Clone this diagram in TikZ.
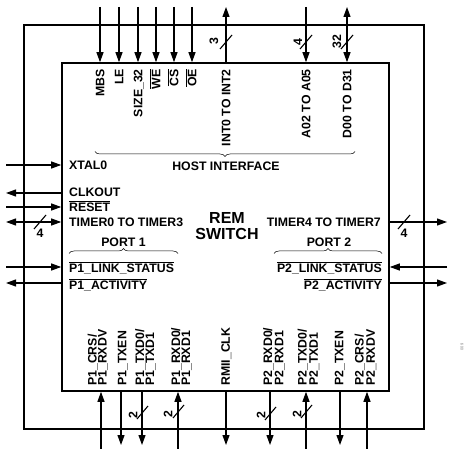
\documentclass[tikz,border=0pt]{standalone}
\usepackage{fontspec}
\setmainfont{Liberation Sans}
\usetikzlibrary{arrows.meta,decorations.pathreplacing}
\newcommand\ovl[1]{$\overline{\mbox{#1}}$}
\tikzset{
 box/.style={draw,line width=1.6pt,inner sep=0pt},
 sig/.style={line width=1.1pt},
 lbl/.style={inner sep=0pt},
 pin/.style={inner sep=0pt,rotate=90},
 brc/.style={decorate,decoration={brace,amplitude=5pt},line width=.5pt},
}
\begin{document}
\begin{tikzpicture}[x=1pt,y=-1pt,>={Triangle[length=10pt,width=7pt]},font=\bfseries\fontsize{12.3}{10}\selectfont]
 \useasboundingbox (0,0) rectangle (466,449);
 \node[box,minimum width=400,minimum height=404] (frame) at (224,227) {};
 \node[box,minimum width=327,minimum height=328] (rem) at (225.5,227) {};
 \node[align=center,inner sep=0pt,font=\bfseries\fontsize{16}{16}\selectfont] (title) at (227,226) {REM\\SWITCH};
 % host bus
 \coordinate (mbs) at (100,7); \draw[sig,->] (mbs) -- (mbs |- rem.north);
 \coordinate (le) at (119,7); \draw[sig,->] (le) -- (le |- rem.north);
 \coordinate (size) at (138,7); \draw[sig,->] (size) -- (size |- rem.north);
 \coordinate (we) at (156,7); \draw[sig,->] (we) -- (we |- rem.north);
 \coordinate (cs) at (174,7); \draw[sig,->] (cs) -- (cs |- rem.north);
 \coordinate (oe) at (192,7); \draw[sig,->] (oe) -- (oe |- rem.north);
 \coordinate (int) at (226,7); \draw[sig,<-] (int) -- (int |- rem.north);
 \coordinate (addr) at (306,7); \draw[sig,->] (addr) -- (addr |- rem.north);
 \coordinate (data) at (347,7); \draw[sig,<->] (data) -- (data |- rem.north);
 \draw[sig] (220,49) -- (232,35); \node[pin] (intw) at (214,41) {3};
 \draw[sig] (300,49) -- (312,35); \node[pin] (addrw) at (298,42) {4};
 \draw[sig] (341,49) -- (353,35); \node[pin] (dataw) at (337,42) {32};
 \node[pin,anchor=base east] (mbsl) at (104.4,69) {MBS};
 \node[pin,anchor=base east] (lel) at (123.4,69) {LE};
 \node[pin,anchor=base east] (sizel) at (142.4,69) {SIZE\_32};
 \node[pin,anchor=base east] (wel) at (160.4,69) {\ovl{WE}};
 \node[pin,anchor=base east] (csl) at (178.4,69) {\ovl{CS}};
 \node[pin,anchor=base east] (oel) at (196.4,69) {\ovl{OE}};
 \node[pin,anchor=base east] (intl) at (230.4,69) {INT0 TO INT2};
 \node[pin,anchor=base east] (addrl) at (310.4,69) {A02 TO A05};
 \node[pin,anchor=base east] (datal) at (351.4,69) {D00 TO D31};
 \draw[brc] (355,151.5) -- (95,151.5);
 \node[lbl,anchor=base] (host) at (226,170.5) {HOST INTERFACE};
 % left side
 \coordinate (xtal) at (6,165); \draw[sig,->] (xtal) -- (xtal -| rem.west);
 \coordinate (clk) at (6,193); \draw[sig,<-] (clk) -- (clk -| rem.west);
 \coordinate (rst) at (6,207); \draw[sig,->] (rst) -- (rst -| rem.west);
 \coordinate (tmra) at (6,222); \draw[sig,<->] (tmra) -- (tmra -| rem.west);
 \draw[sig] (34,229) -- (46,215); \node[lbl] (tmraw) at (40,233) {4};
 \coordinate (lnka) at (6,267); \draw[sig,->] (lnka) -- (lnka -| rem.west);
 \coordinate (acta) at (6,283); \draw[sig,<-] (acta) -- (acta -| rem.west);
 \node[lbl,anchor=base west] (xtall) at (69,169.5) {XTAL0};
 \node[lbl,anchor=base west] (clkl) at (69,196.5) {CLKOUT};
 \node[lbl,anchor=base west] (rstl) at (69,211.5) {\ovl{RESET}};
 \node[lbl,anchor=base west] (tmral) at (69,226.5) {TIMER0 TO TIMER3};
 \node[lbl,anchor=base] (prta) at (123.5,246.4) {PORT 1};
 \draw[brc] (69,253.5) -- (178,253.5);
 \node[lbl,anchor=base west] (lnkal) at (69,272.5) {\ovl{P1\_LINK\_STATUS}};
 \node[lbl,anchor=base west] (actal) at (69,289.5) {\ovl{P1\_ACTIVITY}};
 % right side
 \coordinate (tmrb) at (447,222); \draw[sig,->] (tmrb -| rem.east) -- (tmrb);
 \draw[sig] (398,229) -- (410,215); \node[lbl] (tmrbw) at (404,233) {4};
 \coordinate (lnkb) at (447,267); \draw[sig,->] (lnkb) -- (lnkb -| rem.east);
 \coordinate (actb) at (447,283); \draw[sig,->] (actb -| rem.east) -- (actb);
 \node[lbl,anchor=base east] (tmrbl) at (381,226.5) {TIMER4 TO TIMER7};
 \node[lbl,anchor=base] (prtb) at (329,246.4) {PORT 2};
 \draw[brc] (274,253.5) -- (382,253.5);
 \node[lbl,anchor=base east] (lnkbl) at (382,272.5) {\ovl{P2\_LINK\_STATUS}};
 \node[lbl,anchor=base east] (actbl) at (382,289.5) {\ovl{P2\_ACTIVITY}};
 % ports
 \coordinate (crsa) at (101,449); \draw[sig,->] (crsa) -- (crsa |- rem.south);
 \coordinate (txena) at (121,445); \draw[sig,->] (txena |- rem.south) -- (txena);
 \coordinate (txda) at (142,445); \draw[sig,->] (txda |- rem.south) -- (txda);
 \coordinate (rxda) at (178,449); \draw[sig,->] (rxda) -- (rxda |- rem.south);
 \coordinate (rmii) at (226,445); \draw[sig,->] (rmii |- rem.south) -- (rmii);
 \coordinate (rxdb) at (270,445); \draw[sig,->] (rxdb |- rem.south) -- (rxdb);
 \coordinate (txdb) at (306,449); \draw[sig,->] (txdb) -- (txdb |- rem.south);
 \coordinate (txenb) at (340,445); \draw[sig,->] (txenb |- rem.south) -- (txenb);
 \coordinate (crsb) at (367,449); \draw[sig,->] (crsb) -- (crsb |- rem.south);
 \draw[sig] (137,419) -- (148,406); \node[pin] (txdaw) at (133,415) {2};
 \draw[sig] (173,418) -- (184,405); \node[pin] (rxdaw) at (168,414) {2};
 \draw[sig] (265,420) -- (276,407); \node[pin] (rxdbw) at (261,415) {2};
 \draw[sig] (301,418) -- (312,405); \node[pin] (txdbw) at (297,414) {2};
 \node[pin,anchor=west,align=left] (crsal) at (98,386) {P1\_CRS/\\P1\_RXDV};
 \node[pin,anchor=base west] (txenal) at (126.4,386) {P1\_TXEN};
 \node[pin,anchor=west,align=left] (txdal) at (145.5,386) {P1\_TXD0/\\P1\_TXD1};
 \node[pin,anchor=west,align=left] (rxdal) at (181.5,386) {P1\_RXD0/\\P1\_RXD1};
 \node[pin,anchor=base west] (rmiil) at (229.9,386) {RMII\_CLK};
 \node[pin,anchor=west,align=left] (rxdbl) at (274,386) {P2\_RXD0/\\P2\_RXD1};
 \node[pin,anchor=west,align=left] (txdbl) at (308.5,386) {P2\_TXD0/\\P2\_TXD1};
 \node[pin,anchor=base west] (txenbl) at (343.4,386) {P2\_TXEN};
 \node[pin,anchor=west,align=left] (crsbl) at (365.5,386) {P2\_CRS/\\P2\_RXDV};
 \node[pin,text=gray,font=\fontsize{4}{4}\selectfont] (figno) at (462,347) {009};
\end{tikzpicture}
\end{document}
